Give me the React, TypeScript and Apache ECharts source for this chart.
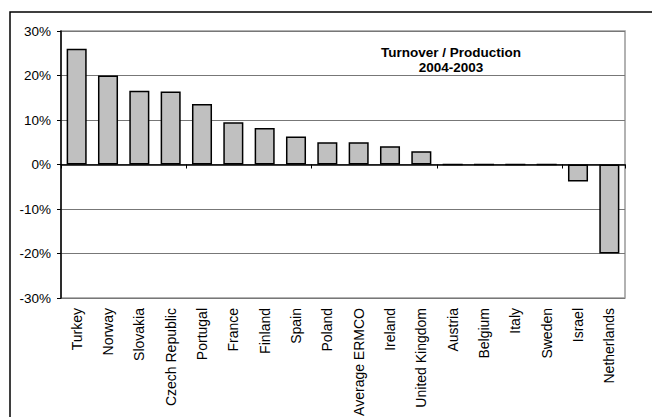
import React, { useEffect, useRef } from "react";
import * as echarts from "echarts";

const categories = [
  "Turkey", "Norway", "Slovakia", "Czech Republic", "Portugal", "France",
  "Finland", "Spain", "Poland", "Average ERMCO", "Ireland", "United Kingdom",
  "Austria", "Belgium", "Italy", "Sweden", "Israel", "Netherlands",
];
const values = [
  0.26, 0.20, 0.166, 0.164, 0.136, 0.095, 0.082, 0.063, 0.05, 0.05, 0.041,
  0.03, 0, 0, 0, 0, -0.038, -0.20,
];
const titleLines = ["Turnover / Production", "2004-2003"];
const FONT = "'Liberation Sans', Arial, sans-serif";

export default function App() {
  const ref = useRef<HTMLDivElement>(null);
  useEffect(() => {
    if (!ref.current) return;
    const chart = echarts.init(ref.current, null, { renderer: "svg" });
    chart.setOption({
      animation: false,
      backgroundColor: "#fff",
      textStyle: { fontFamily: FONT },
      grid: {
        left: 61, top: 31, right: 27, bottom: 119,
        outerBoundsMode: "none",
        containLabel: false,
        show: true, borderColor: "#999", borderWidth: 1.5, backgroundColor: "transparent",
      },
      xAxis: [
        {
          type: "category",
          data: categories,
          position: "bottom",
          axisLine: { onZero: true, lineStyle: { color: "#000", width: 1.5 } },
          axisTick: { show: true, length: 4, lineStyle: { color: "#000" } },
          axisLabel: { show: false },
          splitLine: { show: false },
        },
        {
          type: "category",
          data: categories,
          position: "bottom",
          axisLine: { show: false, onZero: false },
          axisTick: { show: false },
          axisLabel: {
            rotate: 90, margin: 10, color: "#000", fontSize: 14, fontFamily: FONT,
            interval: 0,
          },
          splitLine: { show: false },
        },
      ],
      yAxis: {
        type: "value",
        min: -0.3, max: 0.3, interval: 0.1,
        axisLine: { show: true, lineStyle: { color: "#000", width: 1.5 } },
        axisTick: { show: true, length: 4, lineStyle: { color: "#000" } },
        axisLabel: {
          margin: 10, color: "#000", fontSize: 13.5, fontFamily: FONT,
          formatter: (v: number) => `${Math.round(v * 100)}%`,
        },
        splitLine: { show: true, lineStyle: { color: "#777", width: 1 } },
      },
      series: [
        {
          type: "bar",
          xAxisIndex: 0,
          data: values,
          barCategoryGap: "36%",
          itemStyle: { color: "#C0C0C0", borderColor: "#000", borderWidth: 1.5 },
        },
      ],
      graphic: [
        {
          type: "rect",
          shape: { x: 10, y: 12, width: 700, height: 450 },
          style: { fill: "none", stroke: "#000", lineWidth: 1.5 },
          silent: true,
          z: 100,
        },
        {
          type: "text",
          x: 451, y: 52,
          style: {
            text: titleLines[0], fill: "#000", font: `bold 13.5px ${FONT}`,
            align: "center", verticalAlign: "middle",
          },
        },
        {
          type: "text",
          x: 451, y: 67,
          style: {
            text: titleLines[1], fill: "#000", font: `bold 13.5px ${FONT}`,
            align: "center", verticalAlign: "middle",
          },
        },
      ],
    });
    return () => chart.dispose();
  }, []);
  return (
    <div
      ref={ref}
      style={{ position: "absolute", left: 0, top: 0, width: 652, height: 417 }}
    />
  );
}
